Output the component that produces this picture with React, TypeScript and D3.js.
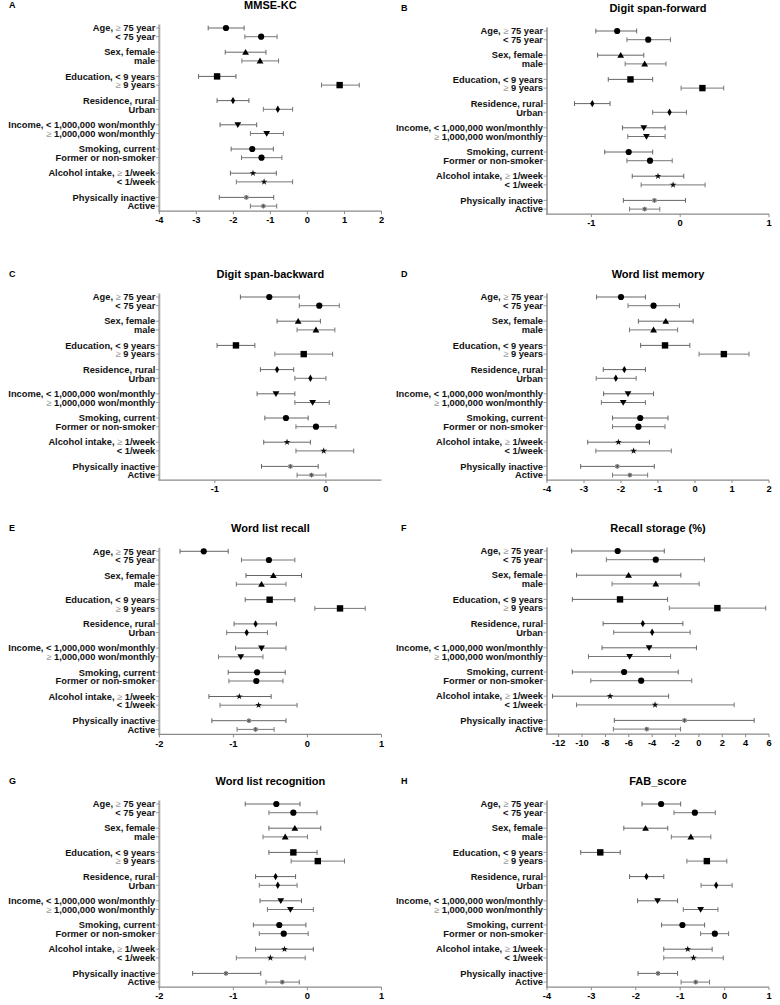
import React from "react";
import * as d3 from "d3";

const rowLabels = [
  "Age, ≥ 75 year", "< 75 year",
  "Sex, female", "male",
  "Education, < 9 years", "≥ 9 years",
  "Residence, rural", "Urban",
  "Income, < 1,000,000 won/monthly", "≥ 1,000,000 won/monthly",
  "Smoking, current", "Former or non-smoker",
  "Alcohol intake, ≥ 1/week", "< 1/week",
  "Physically inactive", "Active",
];
const groupShapes = ["circle", "triangle", "square", "small", "down", "circle", "star", "aster"];

const mmseEst = [-2.2, -1.25, -1.67, -1.28, -2.44, 0.87, -2.01, -0.8, -1.88, -1.1, -1.49, -1.24, -1.47, -1.17, -1.65, -1.19];
const mmseLo = [-2.68, -1.69, -2.22, -1.77, -2.94, 0.38, -2.44, -1.19, -2.36, -1.54, -2.06, -1.78, -2.08, -1.92, -2.38, -1.54];
const mmseHi = [-1.71, -0.82, -1.12, -0.78, -1.93, 1.4, -1.58, -0.4, -1.37, -0.65, -0.92, -0.69, -0.84, -0.4, -0.91, -0.83];

const dsfEst = [-0.71, -0.36, -0.67, -0.4, -0.56, 0.25, -0.99, -0.12, -0.41, -0.38, -0.58, -0.34, -0.25, -0.08, -0.29, -0.4];
const dsfLo = [-0.95, -0.6, -0.93, -0.62, -0.81, 0.01, -1.19, -0.31, -0.65, -0.59, -0.85, -0.6, -0.54, -0.44, -0.64, -0.57];
const dsfHi = [-0.49, -0.11, -0.41, -0.16, -0.31, 0.49, -0.79, 0.07, -0.17, -0.17, -0.31, -0.09, 0.04, 0.28, 0.06, -0.23];

const dsbEst = [-0.51, -0.06, -0.25, -0.09, -0.81, -0.2, -0.44, -0.14, -0.45, -0.12, -0.36, -0.09, -0.35, -0.02, -0.32, -0.13];
const dsbLo = [-0.77, -0.24, -0.44, -0.26, -0.98, -0.46, -0.59, -0.28, -0.62, -0.28, -0.55, -0.27, -0.56, -0.27, -0.58, -0.26];
const dsbHi = [-0.24, 0.12, -0.05, 0.08, -0.64, 0.06, -0.29, 0.0, -0.28, 0.03, -0.16, 0.09, -0.14, 0.25, -0.07, 0.0];

const wlmEst = [-2.0, -1.12, -0.79, -1.12, -0.81, 0.78, -1.91, -2.14, -1.81, -1.94, -1.48, -1.53, -2.07, -1.66, -2.1, -1.76];
const wlmLo = [-2.66, -1.81, -1.53, -1.77, -1.47, 0.11, -2.48, -2.67, -2.47, -2.53, -2.23, -2.23, -2.9, -2.68, -3.09, -2.23];
const wlmHi = [-1.34, -0.42, -0.05, -0.47, -0.14, 1.46, -1.34, -1.59, -1.12, -1.34, -0.73, -0.81, -1.23, -0.64, -1.1, -1.28];

const wlrEst = [-1.4, -0.52, -0.46, -0.62, -0.51, 0.44, -0.7, -0.82, -0.62, -0.9, -0.68, -0.69, -0.92, -0.66, -0.79, -0.7];
const wlrLo = [-1.72, -0.89, -0.83, -0.96, -0.84, 0.1, -0.99, -1.09, -0.97, -1.2, -1.07, -1.06, -1.33, -1.18, -1.29, -0.95];
const wlrHi = [-1.07, -0.17, -0.08, -0.29, -0.17, 0.78, -0.42, -0.54, -0.29, -0.6, -0.3, -0.33, -0.49, -0.14, -0.29, -0.45];

const rsEst = [-6.95, -3.69, -6.02, -3.69, -6.75, 1.58, -4.8, -4.0, -4.26, -5.93, -6.4, -4.94, -7.6, -3.75, -1.23, -4.46];
const rsLo = [-10.89, -7.92, -10.47, -7.43, -10.83, -2.53, -8.2, -7.29, -8.29, -9.45, -10.83, -9.25, -12.53, -10.47, -7.24, -7.32];
const rsHi = [-2.96, 0.47, -1.54, 0.02, -2.68, 5.72, -1.37, -0.75, -0.21, -2.42, -1.77, -0.61, -2.59, 3.02, 4.73, -1.57];

const wlrecEst = [-0.42, -0.19, -0.17, -0.3, -0.19, 0.14, -0.43, -0.4, -0.36, -0.23, -0.38, -0.32, -0.31, -0.5, -1.1, -0.34];
const wlrecLo = [-0.84, -0.52, -0.52, -0.6, -0.52, -0.22, -0.7, -0.65, -0.64, -0.54, -0.73, -0.65, -0.7, -0.96, -1.55, -0.56];
const wlrecHi = [-0.1, 0.13, 0.18, 0.0, 0.13, 0.5, -0.16, -0.14, -0.08, 0.08, -0.02, 0.01, 0.08, -0.03, -0.63, -0.11];

const fabEst = [-1.43, -0.67, -1.78, -0.76, -2.8, -0.4, -1.76, -0.19, -1.51, -0.54, -0.95, -0.22, -0.83, -0.7, -1.5, -0.65];
const fabLo = [-1.86, -1.14, -2.27, -1.2, -3.24, -0.85, -2.14, -0.53, -1.96, -0.93, -1.42, -0.54, -1.37, -1.37, -1.95, -0.98];
const fabHi = [-0.99, -0.21, -1.28, -0.31, -2.35, 0.05, -1.37, 0.17, -1.06, -0.15, -0.45, 0.09, -0.28, -0.03, -1.06, -0.34];

const ticksA = [-4, -3, -2, -1, 0, 1, 2];
const ticksB = [-1, 0, 1];
const ticksC = [-1, 0];
const ticksE = [-2, -1, 0, 1];
const ticksF = [-12, -10, -8, -6, -4, -2, 0, 2, 4, 6];
const ticksH = [-4, -3, -2, -1, 0, 1];

const LEFT = { x0: 159.3, x1: 381.5, letterX: 9 };
const RIGHT = { x0: 547, x1: 769, letterX: 401 };

const panels = [
  { letter: "A", title: "MMSE-KC", est: mmseEst, lo: mmseLo, hi: mmseHi, domain: [-4, 2], ticks: ticksA, col: LEFT, top: 28 },
  { letter: "B", title: "Digit span-forward", est: dsfEst, lo: dsfLo, hi: dsfHi, domain: [-1.5, 1], ticks: ticksB, col: RIGHT, top: 31 },
  { letter: "C", title: "Digit span-backward", est: dsbEst, lo: dsbLo, hi: dsbHi, domain: [-1.5, 0.5], ticks: ticksC, col: LEFT, top: 297 },
  { letter: "D", title: "Word list memory", est: wlmEst, lo: wlmLo, hi: wlmHi, domain: [-4, 2], ticks: ticksA, col: RIGHT, top: 297 },
  { letter: "E", title: "Word list recall", est: wlrEst, lo: wlrLo, hi: wlrHi, domain: [-2, 1], ticks: ticksE, col: LEFT, top: 551.3 },
  { letter: "F", title: "Recall storage (%)", est: rsEst, lo: rsLo, hi: rsHi, domain: [-13, 6], ticks: ticksF, col: RIGHT, top: 551 },
  { letter: "G", title: "Word list recognition", est: wlrecEst, lo: wlrecLo, hi: wlrecHi, domain: [-2, 1], ticks: ticksE, col: LEFT, top: 804 },
  { letter: "H", title: "FAB_score", est: fabEst, lo: fabLo, hi: fabHi, domain: [-4, 1], ticks: ticksH, col: RIGHT, top: 804 },
];

const FONT = "'Liberation Sans', Arial, Helvetica, sans-serif";
const PAIR = 24.2;
const WITHIN = 8.7;

function Marker({ shape, x, y }: { shape: string; x: number; y: number }) {
  const t = `translate(${x},${y})`;
  if (shape === "circle") return <circle cx={x} cy={y} r={3.1} fill="#000" />;
  if (shape === "small") return <path transform={t} d={d3.symbol(d3.symbolDiamond, 16)()!} fill="#000" />;
  if (shape === "square") return <rect x={x - 3.2} y={y - 3.2} width={6.4} height={6.4} fill="#000" />;
  if (shape === "triangle") return <path transform={`translate(${x},${y + 0.6})`} d={d3.symbol(d3.symbolTriangle, 20)()!} fill="#000" />;
  if (shape === "down") return <path transform={`translate(${x},${y - 0.6}) rotate(180)`} d={d3.symbol(d3.symbolTriangle, 20)()!} fill="#000" />;
  if (shape === "star") return <path transform={t} d={d3.symbol(d3.symbolStar, 14)()!} fill="#111" />;
  return (
    <g>
      <circle cx={x} cy={y} r={2.3} fill="#aaa" />
      <path transform={t} d={d3.symbol(d3.symbolAsterisk, 14)()!} fill="none" stroke="#555" strokeWidth={0.9} />
    </g>
  );
}

function Label({ text, x, y }: { text: string; x: number; y: number }) {
  const parts = text.split("≥");
  return (
    <text x={x} y={y} dy="0.35em" textAnchor="end" fontSize={9.3} fontWeight="bold" fill="#111" fontFamily={FONT}>
      {parts.map((p, i) => (
        <React.Fragment key={i}>
          {i > 0 && <tspan fill="#9a9a9a" fontWeight="normal">≥</tspan>}
          <tspan>{p}</tspan>
        </React.Fragment>
      ))}
    </text>
  );
}

function Panel({ p }: { p: typeof panels[number] }) {
  const x = d3.scaleLinear().domain(p.domain).range([p.col.x0, p.col.x1]);
  const rowY = (i: number) => p.top + Math.floor(i / 2) * PAIR + (i % 2) * WITHIN;
  const lastY = rowY(rowLabels.length - 1);
  const axisY = lastY + 5;
  const titleY = p.top - 19;
  const cx = (p.col.x0 + p.col.x1) / 2;
  return (
    <g>
      <text x={p.col.letterX} y={titleY - 1} fontSize={9} fontWeight="bold" fontFamily={FONT}>{p.letter}</text>
      <text x={cx} y={titleY} textAnchor="middle" fontSize={11} fontWeight="bold" fontFamily={FONT}>{p.title}</text>
      {/* y axis */}
      <line x1={p.col.x0} x2={p.col.x0} y1={p.top - 3.5} y2={axisY} stroke="#a8a8a8" strokeWidth={2} />
      {rowLabels.map((lab, i) => (
        <g key={i}>
          <line x1={p.col.x0 - 3.5} x2={p.col.x0} y1={rowY(i)} y2={rowY(i)} stroke="#888" strokeWidth={0.8} />
          <Label text={lab} x={p.col.x0 - 4} y={rowY(i)} />
        </g>
      ))}
      {/* x axis */}
      <line x1={p.col.x0 - 1} x2={p.col.x1} y1={axisY} y2={axisY} stroke="#8a8a8a" strokeWidth={1.3} />
      {p.ticks.map((t) => (
        <g key={t}>
          <line x1={x(t)} x2={x(t)} y1={axisY} y2={axisY + 3} stroke="#8a8a8a" strokeWidth={1} />
          <text x={x(t)} y={axisY + 12.3} textAnchor="middle" fontSize={9.3} fontWeight="bold" fontFamily={FONT}>{t}</text>
        </g>
      ))}
      {/* error bars + markers */}
      {p.est.map((v, i) => {
        const y = rowY(i);
        const col = i % 2 === 0 ? "#666" : "#777";
        return (
          <g key={i}>
            <line x1={x(p.lo[i])} x2={x(p.hi[i])} y1={y} y2={y} stroke={col} strokeWidth={1} />
            <line x1={x(p.lo[i])} x2={x(p.lo[i])} y1={y - 2.4} y2={y + 2.4} stroke={col} strokeWidth={1} />
            <line x1={x(p.hi[i])} x2={x(p.hi[i])} y1={y - 2.4} y2={y + 2.4} stroke={col} strokeWidth={1} />
            <Marker shape={groupShapes[Math.floor(i / 2)]} x={x(v)} y={y} />
          </g>
        );
      })}
    </g>
  );
}

export default function App() {
  return (
    <svg width={780} height={1005} style={{ position: "absolute", left: 0, top: 0, background: "#fff" }}>
      <rect width={780} height={1005} fill="#fff" />
      {panels.map((p) => (
        <Panel key={p.letter} p={p} />
      ))}
    </svg>
  );
}
